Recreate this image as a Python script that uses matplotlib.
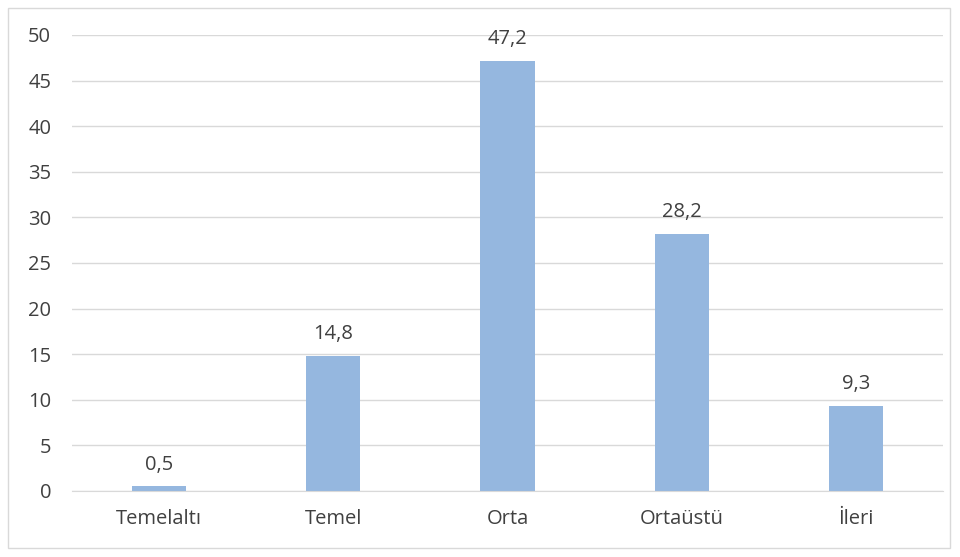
"""Bar chart of level distribution (percent)."""

import matplotlib

matplotlib.use("Agg")
from matplotlib import pyplot as plt
from matplotlib.patches import Rectangle

categories = ["Temelaltı", "Temel", "Orta", "Ortaüstü", "İleri"]
values = [0.5, 14.8, 47.2, 28.2, 9.3]
value_labels = ["0,5", "14,8", "47,2", "28,2", "9,3"]
y_ticks = [0, 5, 10, 15, 20, 25, 30, 35, 40, 45, 50]

W, H = 960, 557
text_color = "#404040"
fs = 14.5

fig = plt.figure(figsize=(W / 100, H / 100), dpi=100)
plt.rcParams["font.family"] = ["Open Sans", "DejaVu Sans"]

# outer chart frame
fig.patches.append(
    Rectangle((8 / W, 1 - 548 / H), 942 / W, 540 / H, transform=fig.transFigure,
              fill=False, edgecolor="#D9D9D9", linewidth=1)
)

ax = fig.add_axes([72 / W, 1 - 491 / H, 871 / W, 456 / H])
x = range(len(categories))
ax.bar(x, values, width=0.31, color="#95B7DF", zorder=2)

for i, (v, lab) in enumerate(zip(values, value_labels)):
    ax.text(i, v + 1.3, lab, ha="center", va="bottom", fontsize=fs, color=text_color)

ax.set_xlim(-0.5, len(categories) - 0.5)
ax.set_ylim(0, 50)
ax.set_yticks(y_ticks)
ax.set_yticklabels([str(t) for t in y_ticks], fontsize=fs, color=text_color)
ax.set_xticks(list(x))
ax.set_xticklabels(categories, fontsize=fs, color=text_color)
ax.tick_params(axis="x", length=0, pad=13)
ax.tick_params(axis="y", length=0, pad=15)
ax.grid(True, axis="y", color="#D9D9D9", linewidth=1, zorder=0)

for side in ["top", "right", "left"]:
    ax.spines[side].set_visible(False)
ax.spines["bottom"].set_color("#D9D9D9")

fig.savefig("out.png", dpi=100)
